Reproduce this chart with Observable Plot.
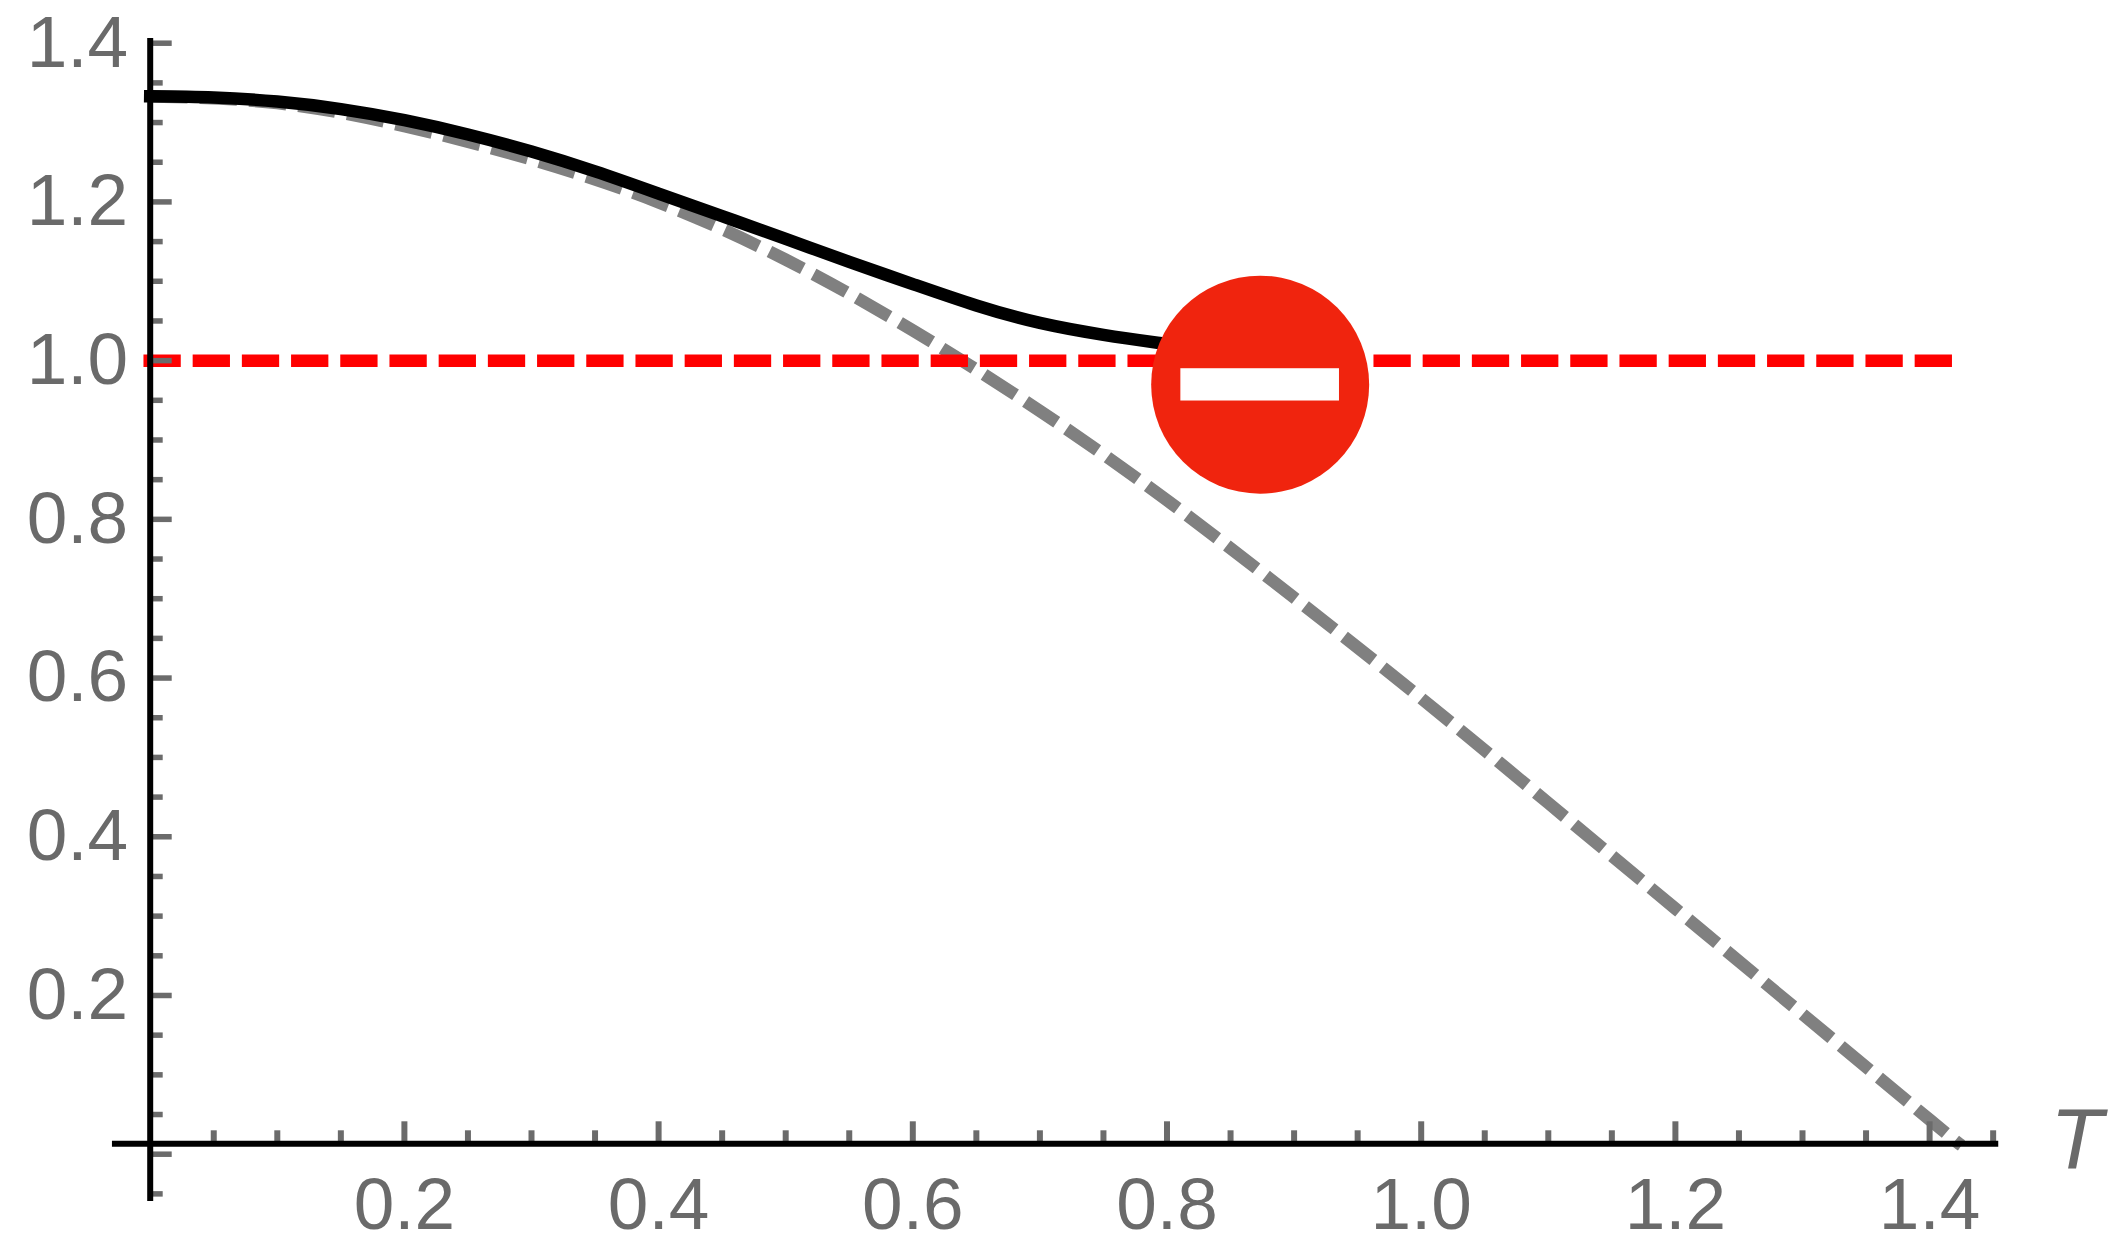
<!DOCTYPE html>
<html>
<head>
<meta charset="utf-8">
<style>html,body{margin:0;padding:0;background:#fff}svg{display:block}</style>
<script src="https://cdn.jsdelivr.net/npm/d3@7"></script>
<script src="https://cdn.jsdelivr.net/npm/@observablehq/plot@0.6"></script>
</head>
<body>
<div id="chart"></div>
<script>
const blackT = [0,0.05,0.1,0.15,0.2,0.25,0.3,0.35,0.4,0.45,0.5,0.55,0.6,0.65,0.7,0.75,0.7925];
const blackV = [1.333,1.3315,1.3265,1.317,1.303,1.285,1.2635,1.2385,1.2105,1.182,1.1535,1.1245,1.0965,1.0695,1.0475,1.0325,1.0226];
const greyT = [0,0.1,0.2,0.3,0.4,0.5,0.6,0.7,0.8,0.9,1.0,1.1,1.2,1.3,1.4,1.4251];
const greyV = [1.333,1.3245,1.2955,1.2535,1.1995,1.1272,1.038,0.9366,0.824,0.7013,0.5745,0.4425,0.3095,0.1765,0.0435,0.011];
const refT = [-0.0053,1.418];
const refV = [1,1];
const xMajor = [0.2,0.4,0.6,0.8,1.0,1.2,1.4];
const xMinor = [0.05,0.1,0.15,0.25,0.3,0.35,0.45,0.5,0.55,0.65,0.7,0.75,0.85,0.9,0.95,1.05,1.1,1.15,1.25,1.3,1.35,1.45];
const yMajor = [0,0.2,0.4,0.6,0.8,1.0,1.2,1.4];
const yMinor = [-0.05,0.05,0.1,0.15,0.25,0.3,0.35,0.45,0.5,0.55,0.65,0.7,0.75,0.85,0.9,0.95,1.05,1.1,1.15,1.25,1.3,1.35];
const yLabels = [0.2,0.4,0.6,0.8,1.0,1.2,1.4];
const axisGrey = "#6b6b6b";
const fmt = d3.format(".1f");

const chart = Plot.plot({
  width: 2118,
  height: 1250,
  marginLeft: 149.7,
  marginBottom: 106.7,
  marginTop: 0,
  marginRight: 0,
  style: {fontFamily: "'Liberation Sans', Arial, sans-serif", background: "#fff"},
  x: {domain: [0, 1.4], range: [149.7, 1929.1], axis: null},
  y: {domain: [0, 1.4], range: [1153.7, 42.7], axis: null},
  marks: [
    Plot.line(greyV, {x: greyT, y: greyV, stroke: "#808080", strokeWidth: 12.5, strokeLinecap: "butt", strokeDasharray: "37.5 12", curve: "natural"}),
    Plot.line(refV, {x: refT, y: refV, stroke: "#ff0000", strokeWidth: 12.5, strokeLinecap: "butt", strokeDasharray: "37.3 11.9"}),
    Plot.line(blackV, {x: blackT, y: blackV, stroke: "#000", strokeWidth: 12.5, strokeLinecap: "square", curve: "natural"}),
    Plot.axisX({ticks: xMajor, tickSize: -22, strokeWidth: 6, stroke: axisGrey, text: null, label: null}),
    Plot.axisX({ticks: xMinor, tickSize: -13, strokeWidth: 6, stroke: axisGrey, text: null, label: null}),
    Plot.axisY({ticks: yMajor, tickSize: -22, strokeWidth: 5.5, stroke: axisGrey, text: null, label: null}),
    Plot.axisY({ticks: yMinor, tickSize: -13, strokeWidth: 5.5, stroke: axisGrey, text: null, label: null}),
    Plot.axisX({ticks: xMajor, tickSize: 0, tickPadding: 33, fontSize: 73, fill: "#6a6a6a", tickFormat: fmt, label: null}),
    Plot.axisY({ticks: yLabels, tickSize: 0, tickPadding: 22, fontSize: 73, fill: "#6a6a6a", tickFormat: fmt, label: null}),
    Plot.ruleX([0], {y1: -0.0596, y2: 1.406, stroke: "#000", strokeWidth: 6}),
    Plot.ruleY([0.0131], {x1: -0.0297, x2: 1.4544, stroke: "#000", strokeWidth: 6}),
    Plot.dot([0.9697], {x: [0.8733], y: [0.9697], r: 109, fill: "#f0240e", stroke: "none"}),
    Plot.rect([0], {x1: [0.8109], x2: [0.9357], y1: [0.9491], y2: [0.9898], fill: "#fff"}),
    Plot.text(["T"], {x: [1.5155], y: [0.0173], text: d => d, fontSize: 86, fontStyle: "italic", fill: "#6a6a6a", lineAnchor: "middle"})
  ]
});
document.getElementById("chart").appendChild(chart);
</script>
</body>
</html>
